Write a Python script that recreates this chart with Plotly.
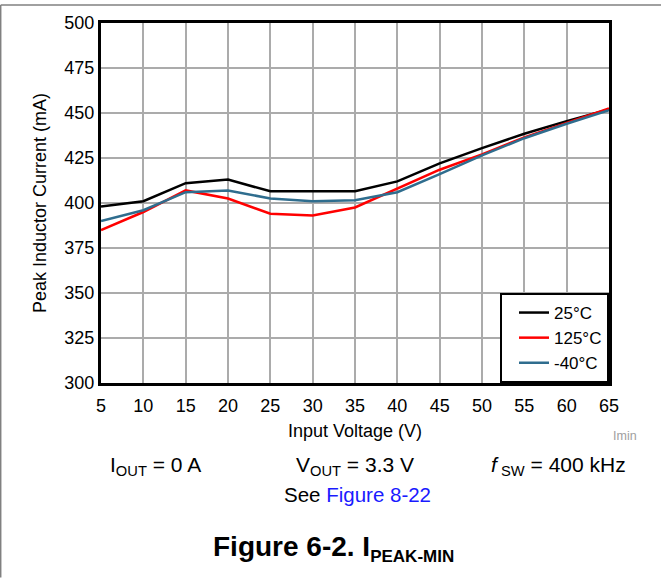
import plotly.graph_objects as go

# ---- data ----
vin = [5, 10, 15, 20, 25, 30, 35, 40, 45, 50, 55, 60, 65]
i_25c = [398, 401, 411, 413, 406.5, 406.5, 406.5, 412, 422, 430.5, 438.5, 445.5, 452]
i_125c = [385, 395, 407, 402.5, 394, 393, 397.5, 408, 418.5, 427, 436.5, 444.5, 452.5]
i_m40c = [390, 396, 406, 407, 402.5, 401, 401.5, 406, 416, 426.5, 436, 444, 451.5]
series_names = ["25°C", "125°C", "-40°C"]
x_ticks = [5, 10, 15, 20, 25, 30, 35, 40, 45, 50, 55, 60, 65]
y_ticks = [300, 325, 350, 375, 400, 425, 450, 475, 500]

W, H = 661, 578
L, R, T, B = 101, 609, 22.7, 383.3
FONT = "Liberation Sans, Arial, Helvetica, sans-serif"

def px(x):
    return (x - L) / (R - L)

def py(y):
    return (B - y) / (B - T)

fig = go.Figure()
colors = ["#000000", "#ff0000", "#2f6d8e"]
for name, ys, c in zip(series_names, [i_25c, i_125c, i_m40c], colors):
    fig.add_trace(go.Scatter(x=vin, y=ys, mode="lines", name=name,
                             line=dict(color=c, width=2.5)))

fig.update_layout(
    width=W, height=H,
    margin=dict(l=L, r=W - R, t=T, b=H - B, pad=0),
    paper_bgcolor="white", plot_bgcolor="white",
    font=dict(family=FONT, size=18, color="#000"),
    showlegend=True,
    legend=dict(x=1, y=0, xanchor="right", yanchor="bottom",
                bgcolor="white", bordercolor="black", borderwidth=2,
                indentation=12,
                font=dict(size=17, family=FONT)),
    xaxis=dict(range=[5, 65], tickvals=x_ticks, showgrid=True,
               gridcolor="#ababab", gridwidth=1.7, zeroline=False,
               showline=True, linecolor="black", linewidth=3, mirror=True,
               ticks="", tickfont=dict(size=18), ticklabelstandoff=4,
               title=dict(text="Input Voltage (V)", font=dict(size=18), standoff=10),
               automargin=False),
    yaxis=dict(range=[300, 500], tickvals=y_ticks, showgrid=True,
               gridcolor="#ababab", gridwidth=1.7, zeroline=False,
               showline=True, linecolor="black", linewidth=3, mirror=True,
               ticks="", tickfont=dict(size=18),
               title=dict(text="Peak Inductor Current (mA)", font=dict(size=18), standoff=14),
               automargin=False),
)

# outer frame (left and top edges only)
fig.add_shape(type="line", xref="paper", yref="paper",
              x0=px(0.7), x1=px(661), y0=py(4.7), y1=py(4.7),
              line=dict(color="#808080", width=1.5))
fig.add_shape(type="line", xref="paper", yref="paper",
              x0=px(0.7), x1=px(0.7), y0=py(4.7), y1=py(578),
              line=dict(color="#808080", width=1.5))

ann = [
    dict(text="Imin", x=px(625), y=py(436), font=dict(size=12.5, color="#a0a0a0"), xanchor="center"),
    dict(text="I<sub>OUT</sub> = 0 A", x=px(108), y=py(466), font=dict(size=21), xanchor="left"),
    dict(text="V<sub>OUT</sub> = 3.3 V", x=px(355), y=py(466), font=dict(size=21), xanchor="center"),
    dict(text="<i>f</i>\u2009<sub>SW</sub> = 400 kHz", x=px(628), y=py(466), font=dict(size=21), xanchor="right"),
    dict(text="See <span style='color:#1a1aff'>Figure 8-22</span>", x=px(357), y=py(495),
         font=dict(size=20.5), xanchor="center"),
    dict(text="<b>Figure 6-2. I<sub><span style='font-size:17px'>PEAK-MIN</span></sub></b>",
         x=px(333), y=py(549), font=dict(size=28), xanchor="center"),
]
for a in ann:
    fig.add_annotation(xref="paper", yref="paper", showarrow=False, yanchor="middle", **a)

fig.write_html("out.html", config={"displayModeBar": False},
               post_script="document.body.style.margin='0';")
